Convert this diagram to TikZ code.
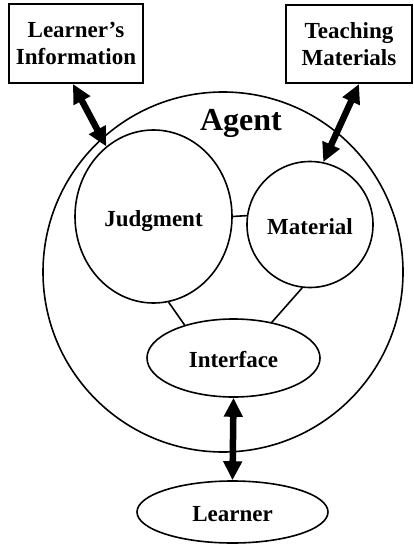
\documentclass[tikz,border=0pt]{standalone}
\usepackage{fontspec}
\setmainfont{Liberation Serif}
\usetikzlibrary{arrows.meta,shapes.geometric}

\tikzset{
  lbl/.style={font=\bfseries\fontsize{23}{27.5}\selectfont},
  part/.style={draw, line width=1.6pt, inner sep=0pt, lbl,
               text height=19pt, text depth=0pt},
  oval/.style={part, ellipse},
  ball/.style={part, circle},
  source/.style={draw, line width=2pt, inner sep=0pt, lbl, align=center},
  link/.style={line width=1.6pt},
  flow/.style={line width=6.5pt,
    {Triangle[length=19pt,width=18pt]}-{Triangle[length=19pt,width=18pt]}}
}

\begin{document}
\begin{tikzpicture}[x=1pt,y=-1pt]
  \useasboundingbox (0,0) rectangle (413,548);

  % outer agent boundary and its title
  \node[ball, minimum size=360pt] (agent) at (223,272) {};
  \node[anchor=base, font=\bfseries\fontsize{32}{36}\selectfont] (agentlbl) at (241,131) {Agent};

  % inner components
  \node[oval, minimum width=157pt, minimum height=173pt] (judg) at (153.5,216.5) {Judgment};
  \node[ball, minimum size=126pt] (mat) at (310,224.5) {Material};
  \node[oval, minimum width=173pt, minimum height=78pt] (iface) at (233.5,358) {Interface};

  % outside parties
  \node[oval, minimum width=191pt, minimum height=62pt] (learner) at (232.5,512) {Learner};
  \node[source, minimum width=134pt, minimum height=79pt] (lrninfo) at (76,43.5) {Learner’s\\Information};
  \node[source, minimum width=126pt, minimum height=78pt] (teach) at (349,44) {Teaching\\Materials};

  % internal links
  \draw[link] (judg.east) -- (mat.172);
  \draw[link] (judg.-80) -- (iface.146);
  \draw[link] (mat.-97) -- (iface.43);

  % data exchange
  \draw[flow] ([xshift=-3pt]lrninfo.south) -- (judg.124);
  \draw[flow] ([xshift=10pt]teach.south) -- (mat.78);
  \draw[flow] (iface.south) -- (learner.north);
\end{tikzpicture}
\end{document}
